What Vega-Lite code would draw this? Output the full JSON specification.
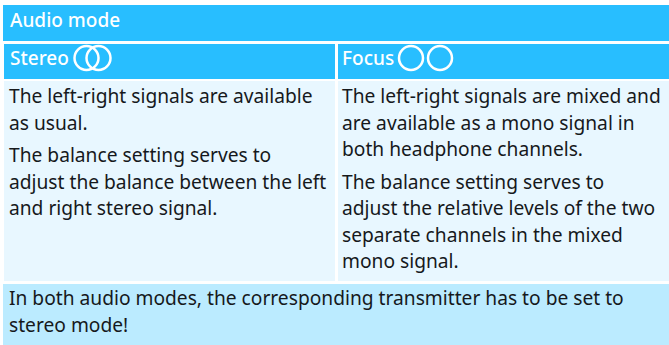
{"$schema":"https://vega.github.io/schema/vega-lite/v6.json","width":669,"height":345,"padding":0,"autosize":{"type":"none"},"background":"white","view":{"stroke":null},
"datasets":{
"cells":[
{"cell":"title","x":3,"x2":669,"y":5,"y2":41},
{"cell":"head","x":4,"x2":335,"y":44,"y2":79},
{"cell":"head","x":338,"x2":669,"y":44,"y2":79},
{"cell":"body","x":4,"x2":335,"y":81,"y2":281},
{"cell":"body","x":338,"x2":669,"y":81,"y2":281},
{"cell":"note","x":3,"x2":669,"y":284,"y2":345}],
"rings":[{"x":86.5,"y":58},{"x":98.5,"y":58},{"x":411,"y":58},{"x":440,"y":58}],
"heads":[{"x":10,"y":27,"t":"Audio mode"},{"x":10,"y":65,"t":"Stereo"},{"x":342,"y":65,"t":"Focus"}],
"lines":[
{"x":9,"y":103,"t":"The left-right signals are available"},
{"x":9,"y":129.5,"t":"as usual."},
{"x":9,"y":162,"t":"The balance setting serves to"},
{"x":9,"y":189,"t":"adjust the balance between the left"},
{"x":9,"y":215,"t":"and right stereo signal."},
{"x":342,"y":103,"t":"The left-right signals are mixed and"},
{"x":342,"y":129.5,"t":"are available as a mono signal in"},
{"x":342,"y":156,"t":"both headphone channels."},
{"x":342,"y":189,"t":"The balance setting serves to"},
{"x":342,"y":215,"t":"adjust the relative levels of the two"},
{"x":342,"y":241.5,"t":"separate channels in the mixed"},
{"x":342,"y":268,"t":"mono signal."},
{"x":9,"y":305,"t":"In both audio modes, the corresponding transmitter has to be set to"},
{"x":9,"y":332,"t":"stereo mode!"}]},
"layer":[
{"data":{"name":"cells"},"mark":{"type":"rect"},"encoding":{
"x":{"field":"x","type":"quantitative","scale":{"domain":[0,669],"nice":false,"zero":false},"axis":null},
"x2":{"field":"x2"},
"y":{"field":"y","type":"quantitative","scale":{"domain":[0,345],"range":[0,345],"nice":false,"zero":false},"axis":null},
"y2":{"field":"y2"},
"color":{"field":"cell","type":"nominal","legend":null,"scale":{"domain":["title","head","body","note"],"range":["#28BEFF","#28BEFF","#E8F7FF","#BBEBFF"]}}}},
{"data":{"name":"rings"},"mark":{"type":"point","shape":"circle","filled":false,"stroke":"white","strokeWidth":2.5,"size":576,"opacity":1},"encoding":{
"x":{"field":"x","type":"quantitative"},"y":{"field":"y","type":"quantitative"}}},
{"data":{"name":"heads"},"mark":{"type":"text","align":"left","baseline":"alphabetic","font":"Noto Sans","fontSize":19,"fontWeight":500,"color":"white"},"encoding":{
"x":{"field":"x","type":"quantitative"},"y":{"field":"y","type":"quantitative"},"text":{"field":"t"}}},
{"data":{"name":"lines"},"mark":{"type":"text","align":"left","baseline":"alphabetic","font":"Noto Sans","fontSize":19.2,"color":"#16191c"},"encoding":{
"x":{"field":"x","type":"quantitative"},"y":{"field":"y","type":"quantitative"},"text":{"field":"t"}}}
]}
